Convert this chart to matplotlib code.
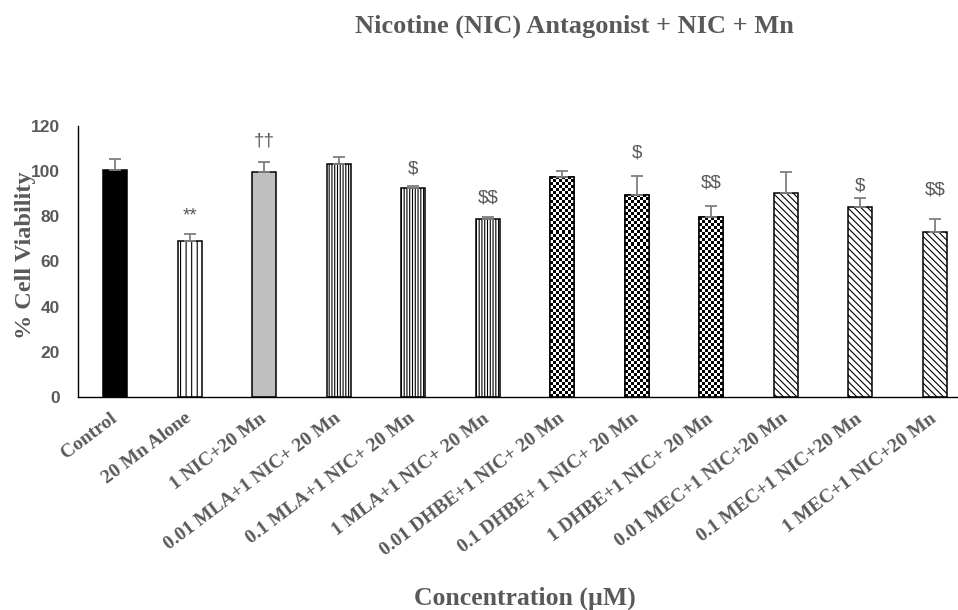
import numpy as np
import matplotlib
matplotlib.use("Agg")
import matplotlib.pyplot as plt

categories = ["Control", "20 Mn Alone", "1 NIC+20 Mn", "0.01 MLA+1 NIC+ 20 Mn",
              "0.1 MLA+1 NIC+ 20 Mn", "1 MLA+1 NIC+ 20 Mn", "0.01 DHBE+1 NIC+ 20 Mn",
              "0.1 DHBE+ 1 NIC+ 20 Mn", "1 DHBE+1 NIC+ 20 Mn", "0.01 MEC+1 NIC+20 Mn",
              "0.1 MEC+1 NIC+20 Mn", "1 MEC+1 NIC+20 Mn"]
values = [100.3, 69.1, 99.5, 102.9, 92.2, 78.5, 97.3, 89.2, 79.4, 90.3, 83.8, 73.1]
errors = [5.1, 3.2, 4.4, 3.2, 1.2, 1.2, 2.5, 8.6, 5.1, 9.2, 4.3, 5.5]
ann_text = ["", "**", "\u2020\u2020", "", "$", "$$", "", "$", "$$", "", "$", "$$"]
ann_y = [None, 79.9, 113.0, None, 100.8, 88.0, None, 107.9, 94.6, None, 93.5, 91.7]
yticks = [0, 20, 40, 60, 80, 100, 120]

face = ["black", "white", "#bfbfbf", "white", "white", "white",
        "white", "white", "white", "white", "white", "white"]
hatches = [None, "|||", None, "||||||", "||||||", "||||||",
           None, None, None, "\\\\\\\\\\", "\\\\\\\\\\", "\\\\\\\\\\"]
checker = [False] * 6 + [True] * 3 + [False] * 3

GRAY = "#595959"
SERIF = "Liberation Serif"
SANS = "Liberation Sans"
plt.rcParams["hatch.linewidth"] = 0.8
plt.rcParams["text.parse_math"] = False

W, H = 958, 610
fig = plt.figure(figsize=(W / 100, H / 100), dpi=100)
y0, y120 = 397.3, 125.5
ax = fig.add_axes([78 / W, 1 - y0 / H, (972 - 78) / W, (y0 - y120) / H])

x = np.arange(len(categories))
bw = 0.32
bars = ax.bar(x, values, width=bw, color=face, edgecolor="black", linewidth=1.1, zorder=2)
for b, h in zip(bars, hatches):
    if h:
        b.set_hatch(h)

ax.set_xlim(-0.5, len(categories) - 0.5)
ax.set_ylim(0, 120)

# checker texture for DHBE bars
for i, b in enumerate(bars):
    if checker[i]:
        wpx = bw * (972 - 78) / len(categories)
        hpx = values[i] * (y0 - y120) / 120
        nx = max(1, int(round(wpx / 3.0)))
        ny = max(1, int(round(hpx / 3.0)))
        img = (np.indices((ny, nx)).sum(axis=0) % 2).astype(float)
        im = ax.imshow(img, cmap="gray", interpolation="nearest", aspect="auto",
                       extent=[x[i] - bw / 2, x[i] + bw / 2, 0, values[i]], zorder=2.1,
                       vmin=0, vmax=1)
        im.set_clip_path(b)
        ax.bar(x[i], values[i], width=bw, fill=False, edgecolor="black", linewidth=1.1, zorder=2.2)

ax.set_xlim(-0.5, len(categories) - 0.5)
ax.set_ylim(0, 120)

ax.errorbar(x, values, yerr=[np.zeros(len(values)), errors], fmt="none",
            ecolor="#7f7f7f", elinewidth=1.3, capsize=4.5, capthick=1.3, zorder=3)

for xi, t, yy in zip(x, ann_text, ann_y):
    if t:
        ax.text(xi, yy, t, ha="center", va="center", fontsize=13.5, color=GRAY,
                family=SANS, zorder=4, parse_math=False)

for s in ["top", "right"]:
    ax.spines[s].set_visible(False)
for s in ["left", "bottom"]:
    ax.spines[s].set_color("black")
    ax.spines[s].set_linewidth(1.0)

ax.set_yticks(yticks)
ax.set_yticklabels([str(v) for v in yticks], fontsize=12.5, fontweight="bold",
                   color=GRAY, family=SANS)
ax.tick_params(axis="y", length=0, pad=13)
ax.set_xticks(x)
ax.set_xticklabels(categories, rotation=37, ha="right", rotation_mode="anchor",
                   fontsize=14, fontweight="bold", color=GRAY, family=SERIF, va="center")
ax.tick_params(axis="x", length=0, pad=14)

fig.text(574 / W, 1 - 26 / H, "Nicotine (NIC) Antagonist + NIC + Mn", ha="center", va="center",
         fontsize=19, fontweight="bold", color=GRAY, family=SERIF)
fig.text(525 / W, 1 - 598 / H, "Concentration (\u00b5M)", ha="center", va="center",
         fontsize=18.5, fontweight="bold", color=GRAY, family=SERIF)
fig.text(26 / W, 1 - 255 / H, "% Cell Viability", ha="center", va="center", rotation=90,
         fontsize=17.5, fontweight="bold", color=GRAY, family=SERIF)

fig.savefig("out.png", dpi=100)
